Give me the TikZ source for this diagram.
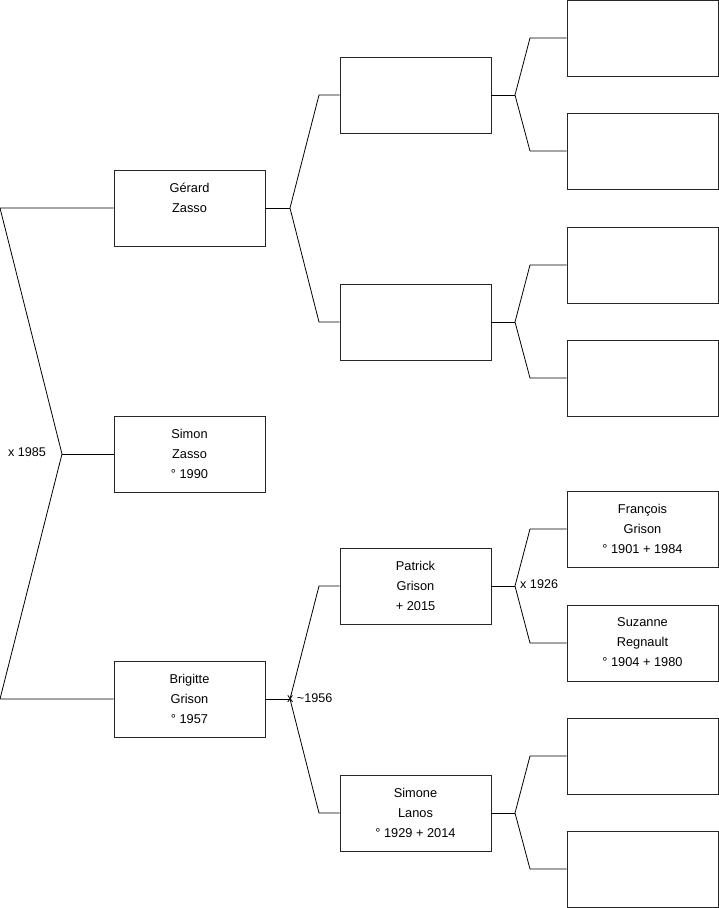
\documentclass[tikz,border=0pt]{standalone}
\usepackage{fontspec}
\setmainfont{Liberation Sans}
\begin{document}
\begin{tikzpicture}[x=1pt,y=-1pt,
  person/.style={draw=black!85,line width=0.9pt,minimum width=151pt,minimum height=76pt,inner sep=0pt},
  ptext/.style={align=center,inner sep=0pt,font=\fontsize{12.8}{20}\selectfont},
  link/.style={draw=black,line width=0.8pt},
  mlabel/.style={font=\fontsize{12.6}{14}\selectfont,inner sep=0pt}]
\useasboundingbox (0,0) rectangle (719,908);
% generation 1
\node[person] (gerard) at (189.5,208) {};
\node[person] (simon) at (189.5,454) {};
\node[person] (brigitte) at (189.5,699) {};
% generation 2
\node[person] (g2a) at (415.5,95) {};
\node[person] (g2b) at (415.5,322) {};
\node[person] (patrick) at (415.5,586) {};
\node[person] (simone) at (415.5,813) {};
% generation 3
\node[person] (g3a) at (642.5,38) {};
\node[person] (g3b) at (642.5,151) {};
\node[person] (g3c) at (642.5,265) {};
\node[person] (g3d) at (642.5,378) {};
\node[person] (francois) at (642.5,529) {};
\node[person] (suzanne) at (642.5,643) {};
\node[person] (g3g) at (642.5,756) {};
\node[person] (g3h) at (642.5,869) {};
% texts
\node[ptext] (gerard-t) at ([yshift=-2.5pt]gerard.center) {Gérard\\Zasso\\\strut};
\node[ptext] (simon-t) at ([yshift=0.5pt]simon.center) {Simon\\Zasso\\° 1990};
\node[ptext] (brigitte-t) at ([yshift=0.5pt]brigitte.center) {Brigitte\\Grison\\° 1957};
\node[ptext] (patrick-t) at ([yshift=0.5pt]patrick.center) {Patrick\\Grison\\+ 2015};
\node[ptext] (simone-t) at ([yshift=0.5pt]simone.center) {Simone\\Lanos\\° 1929 + 2014};
\node[ptext] (francois-t) at ([yshift=0.5pt]francois.center) {François\\Grison\\° 1901 + 1984};
\node[ptext] (suzanne-t) at ([yshift=0.5pt]suzanne.center) {Suzanne\\Regnault\\° 1904 + 1980};
% root fork
\coordinate (f0) at (62,454);
\coordinate (r1) at (0,208);
\coordinate (r2) at (0,699);
\draw[link] (gerard.west) -- (r1) -- (f0) -- (r2) -- (brigitte.west);
\draw[link] (f0) -- (simon.west);
\node[mlabel] (m0) at (27,452) {x 1985};
% Gerard fork
\coordinate (fg) at (290,208);
\coordinate (fga) at (319,95);
\coordinate (fgb) at (319,322);
\draw[link] (gerard.east) -- (fg);
\draw[link] (g2a.west) -- (fga) -- (fg) -- (fgb) -- (g2b.west);
% Brigitte fork
\coordinate (fb) at (290,699);
\coordinate (fba) at (319,586);
\coordinate (fbb) at (319,813);
\draw[link] (brigitte.east) -- (fb);
\draw[link] (patrick.west) -- (fba) -- (fb) -- (fbb) -- (simone.west);
\node[mlabel,anchor=west] (m1) at (287,698) {x \textasciitilde1956};
% g2a fork
\coordinate (fa) at (515,95);
\coordinate (faa) at (530,38);
\coordinate (fab) at (530,151);
\draw[link] (g2a.east) -- (fa);
\draw[link] (g3a.west) -- (faa) -- (fa) -- (fab) -- (g3b.west);
% g2b fork
\coordinate (fc) at (515,322);
\coordinate (fca) at (530,265);
\coordinate (fcb) at (530,378);
\draw[link] (g2b.east) -- (fc);
\draw[link] (g3c.west) -- (fca) -- (fc) -- (fcb) -- (g3d.west);
% Patrick fork
\coordinate (fp) at (515,586);
\coordinate (fpa) at (530,529);
\coordinate (fpb) at (530,643);
\draw[link] (patrick.east) -- (fp);
\draw[link] (francois.west) -- (fpa) -- (fp) -- (fpb) -- (suzanne.west);
\node[mlabel,anchor=west] (m2) at (520,584) {x 1926};
% Simone fork
\coordinate (fs) at (515,813);
\coordinate (fsa) at (530,756);
\coordinate (fsb) at (530,869);
\draw[link] (simone.east) -- (fs);
\draw[link] (g3g.west) -- (fsa) -- (fs) -- (fsb) -- (g3h.west);
\end{tikzpicture}
\end{document}
